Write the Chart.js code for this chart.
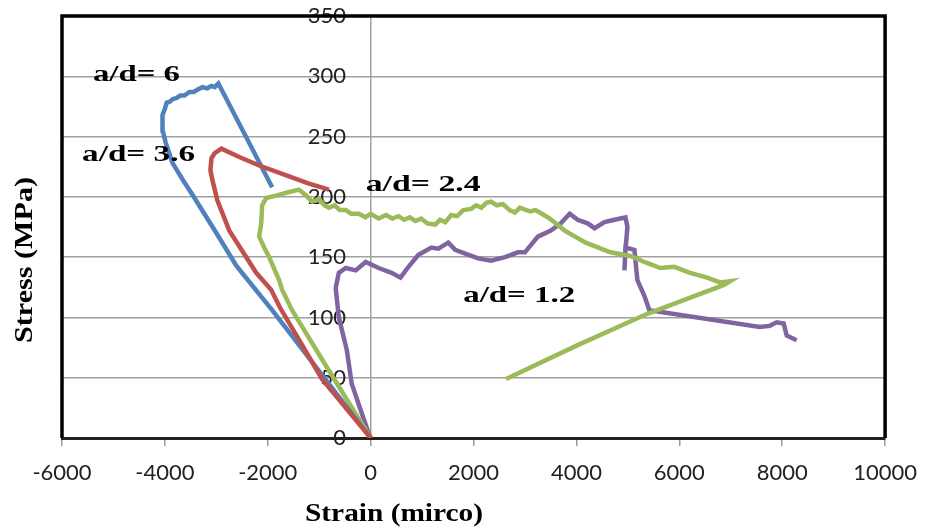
<!DOCTYPE html>
<html lang="en">
<head>
<meta charset="utf-8">
<title>Stress - strain</title>
<script src="https://cdn.jsdelivr.net/npm/chart.js"></script>
<style>
  html, body { margin: 0; padding: 0; background: #fff; }
  #wrap { width: 931px; height: 531px; position: relative; }
</style>
</head>
<body>
<div id="wrap"><canvas id="chart"></canvas></div>
<script>
// values: strain (micro) and stress (MPa)
const seriesNames = ['a/d= 6', 'a/d= 3.6', 'a/d= 2.4', 'a/d= 1.2'];

const strain6 = [0, -1915, -2612, -3000, -3424, -3650, -3850, -3985, -4043, -4050, -4043, -4000, -3966, -3900, -3850,
  -3772, -3700, -3620, -3521, -3440, -3360, -3269, -3180, -3095, -3030, -2960, -1915];
const stress6 = [0, 106, 143, 170, 199, 214, 228, 245, 255, 262, 268, 273, 278, 279, 281,
  282, 284, 284, 287, 287, 289, 291, 290, 292, 291, 294, 208];

const strain36 = [0, -948, -1277, -1760, -1935, -2225, -2747, -2979, -3076, -3115, -3095, -3037, -2902,
  -2554, -2167, -1586, -1199, -813];
const stress36 = [0, 49, 73, 108, 123, 137, 172, 197, 214, 222, 232, 236, 240,
  233, 226, 217, 211, 206];

const strain24 = [0, -813, -1528, -1722, -1780, -1973, -2070, -2167, -2128, -2109, -2031, -1838, -1586, -1393,
  -1250, -1141, -1000, -900, -813, -700, -600, -484, -380, -232, -100, 0, 155, 300, 420, 542, 650, 760,
  871, 980, 1100, 1257, 1350, 1450, 1567, 1680, 1800, 1954, 2050, 2150, 2250, 2341, 2450, 2573, 2700,
  2805, 2900, 2960, 3100, 3200, 3289, 3482,
  3772, 4179, 4662, 5049, 5320, 5630, 5901, 6210, 6539, 6790, 6984, 6868, 5378, 4024, 2631];
const stress24 = [0, 56, 106, 123, 131, 150, 158, 167, 178, 193, 199, 201, 204, 206,
  201, 196, 198, 193, 191, 193, 189, 189, 186, 186, 183, 186, 182, 185, 182, 184, 181, 183,
  180, 182, 178, 177, 181, 179, 185, 184, 189, 190, 193, 191, 195, 196, 193, 194, 189,
  187, 191, 190, 188, 189, 187, 182,
  172, 162, 154, 151, 146, 141, 142, 137, 133, 129, 130, 127, 103, 77, 49];

const strain12 = [0, -39, -193, -368, -464, -619, -677, -677, -619, -484, -290, -97, 155, 406, 580, 735,
  929, 1180, 1316, 1509, 1644, 1838, 2089, 2341, 2612, 2863, 2999, 3250, 3502, 3695, 3869,
  4024, 4217, 4353, 4546, 4740, 4953, 4991, 4953, 4933, 4953, 5127, 5185, 5320, 5417,
  7564, 7758, 7893, 8029, 8087, 8280];
const stress12 = [0, 4, 23, 45, 73, 100, 123, 125, 137, 141, 139, 146, 141, 137, 133, 142,
  152, 158, 157, 162, 156, 153, 149, 147, 150, 154, 154, 167, 172, 178, 186,
  181, 178, 174, 179, 181, 183, 175, 156, 139, 158, 156, 131, 118, 106,
  92, 93, 96, 95, 85, 81];

const xTicksMin = -6000, xTicksMax = 10000, xStep = 2000;
const yTicksMin = 0, yTicksMax = 350, yStep = 50;

function pts(xs, ys) { return xs.map((x, i) => ({ x: x, y: ys[i] })); }

// where each series name sits (left edge / middle, in data units) and its drawn width
const labelSpots = [
  { x: -5398, y: 301, w: 87 },
  { x: -5610, y: 235, w: 113 },
  { x: -97, y: 210, w: 115 },
  { x: 1799, y: 118, w: 112 }
];

const frame = {
  id: 'frame',
  afterDraw(chart) {
    const { ctx, chartArea: a, scales } = chart;
    ctx.save();
    ctx.strokeStyle = '#000';
    ctx.lineWidth = 3.5;
    ctx.beginPath();
    ctx.moveTo(a.left, a.bottom);
    ctx.lineTo(a.left, a.top);
    ctx.lineTo(a.right, a.top);
    ctx.lineTo(a.right, a.bottom);
    ctx.stroke();

    ctx.fillStyle = '#000';
    ctx.font = 'bold 23px "Liberation Serif"';
    ctx.textBaseline = 'middle';
    ctx.textAlign = 'left';
    seriesNames.forEach((t, i) => {
      const s = labelSpots[i];
      const px = scales.x.getPixelForValue(s.x);
      const py = scales.y.getPixelForValue(s.y);
      const sx = s.w / ctx.measureText(t).width;
      ctx.save();
      ctx.translate(px, py);
      ctx.scale(sx, 1);
      ctx.fillText(t, 0, 0);
      ctx.restore();
    });

    // axis titles
    ctx.font = 'bold 26px "Liberation Serif"';
    ctx.textAlign = 'center';
    let t = 'Strain (mirco)';
    let sx = 178 / ctx.measureText(t).width;
    ctx.save();
    ctx.translate(394, 514);
    ctx.scale(sx, 1);
    ctx.fillText(t, 0, 0);
    ctx.restore();

    t = 'Stress (MPa)';
    sx = 166 / ctx.measureText(t).width;
    ctx.save();
    ctx.translate(25, 260);
    ctx.rotate(-Math.PI / 2);
    ctx.scale(sx, 1);
    ctx.fillText(t, 0, 0);
    ctx.restore();
    ctx.restore();
  }
};

const line = (data, color) => ({
  data: data, showLine: true, borderColor: color, backgroundColor: color,
  borderWidth: 4.5, pointRadius: 0, tension: 0, fill: false
});

new Chart(document.getElementById('chart'), {
  type: 'scatter',
  data: {
    datasets: [
      line(pts(strain36, stress36), '#C0504D'),
      line(pts(strain6, stress6), '#4F81BD'),
      line(pts(strain24, stress24), '#9BBB59'),
      line(pts(strain12, stress12), '#8064A2')
    ]
  },
  options: {
    responsive: true,
    maintainAspectRatio: false,
    animation: false,
    layout: { padding: { left: 62, right: 42, top: 16, bottom: 0 } },
    plugins: { legend: { display: false }, tooltip: { enabled: false } },
    scales: {
      x: {
        type: 'linear', position: 'bottom',
        min: xTicksMin, max: xTicksMax,
        ticks: { stepSize: xStep, color: '#222', padding: 14, font: { family: 'Lato', size: 22 },
          callback: v => String(v) },
        grid: {
          drawOnChartArea: true, drawTicks: true, tickLength: 8, lineWidth: 1.5,
          color: c => (c.tick && c.tick.value === 0) ? '#a0a0a0' : 'rgba(0,0,0,0)',
          tickColor: '#999'
        },
        border: { color: '#222', width: 3 },
        afterFit(s) { s.height = 93; }
      },
      y: {
        type: 'linear', position: { x: -480 },
        min: yTicksMin, max: yTicksMax,
        ticks: { stepSize: yStep, color: '#222', padding: 0, font: { family: 'Lato', size: 22 },
          callback: v => String(v) },
        grid: { drawTicks: false, color: '#a0a0a0', lineWidth: 1.5 },
        border: { display: false },
        afterFit(s) { s.width = 0; s.paddingTop = 0; s.paddingBottom = 0; }
      }
    }
  },
  plugins: [frame]
});
</script>
</body>
</html>
